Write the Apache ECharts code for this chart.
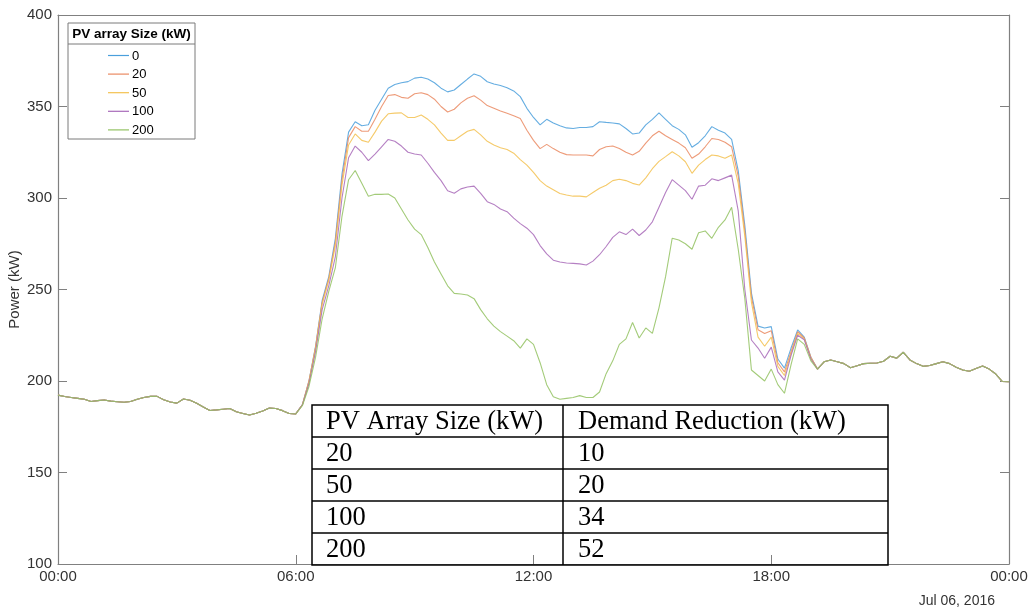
<!DOCTYPE html>
<html>
<head>
<meta charset="utf-8">
<script src="https://cdn.jsdelivr.net/npm/echarts@6/dist/echarts.min.js"></script>
<style>
html,body{margin:0;padding:0;background:#fff;}
#chart{width:1030px;height:611px;}
</style>
</head>
<body>
<div id="chart"></div>
<script>
// ---- DATA ----
const stepMinutes = 10;            // sampling interval of all arrays
const xTickLabels = ['00:00', '06:00', '12:00', '18:00', '00:00'];
const dateLabel = 'Jul 06, 2016';
const yAxisName = 'Power (kW)';
const legendTitle = 'PV array Size (kW)';
const seriesNames = ['0', '20', '50', '100', '200'];

// 00:00 - 06:00 (shared by all PV sizes)
const nightMorning = [192.3,191.5,191.0,190.5,190.0,188.8,189.3,189.6,189.0,188.7,188.4,188.8,
  190.0,191.0,191.6,191.6,189.8,188.5,187.9,190.2,189.5,187.8,185.8,183.9,184.2,184.6,185.0,
  183.2,182.2,181.4,182.4,183.6,185.2,185.0,183.8,182.2,182.0];

// 06:10 - 19:00 for each PV size
const day0 = [187,200,219,244,257,278,313,336,341.7,339.5,340,348,354,360,362,363,363.6,365.5,366,365,
  363,360,358,359,362,365,367.8,366.5,363.5,362.3,361.5,360.3,358.5,355.4,349,344,340,343,341,339.5,
  338.3,338,338.5,338.5,339,341.7,341.3,341,340.5,338,335,335.5,340,343,346.5,343,339.5,337.5,334.5,
  327.7,330.2,334,339,337,335.5,332,315,285,248,230,229,229.7,212,207,218,227.9,224,213];
const day20 = [187,200,218.5,243,256,276,310,333,339,336.5,336.5,343,350,356,356.5,355,354.5,357,357.5,356.5,
  354,350,347,348.5,352,354.5,355.9,353.5,350.5,349,347.5,346.3,345,343.5,337,331.5,327,329.3,327,325,
  323.7,323.5,323.5,323.5,323,326.5,328,328.4,327,325,323.5,325.5,330,334,336.5,334,332,330,327.5,
  321.7,324,328,332.5,332,330.5,328,312,282,246,228,226,227.5,210,205,216,227,223.5,213];
const day50 = [187,199.5,218,242,255,274,307,329,335,331.5,330.5,336,342,346,346.4,346.5,344,344,345.4,343,
  340,335.5,331.5,331.5,334,336.5,337.5,334.5,331,329,327.5,326.5,324.5,321,318,314,309.5,306.5,304.5,302.5,
  301.6,301,301,300.6,303,305.3,307,309.5,310.2,309.5,308,307.1,311,316,320,322.6,325.3,323,319.8,
  313.5,318,321,323.5,323,321.7,323.5,308,279,243,224,219,224,208,203,215,226,223,212.5];
const day100 = [187,198.5,216,239,252,268,300,322,328.4,325,320.4,324,328,332,331,328.4,325,324,323.5,319,
  314,309.5,304,302.6,305,306,306.5,302.5,298,296.5,294,292.5,289,286,283.5,280,274,269.5,266,265,
  264.5,264.3,264,263.4,265.5,269,273.5,278.5,281.5,280,283,279.5,282.5,287,295,303,310,307,304,
  299.3,306.5,307,310.5,309.5,311,312.5,293,250,222.4,218,212.4,218.5,205,200.5,214,225,222.5,212];
const day200 = [186.5,197,213,234,249,262,290,310,315,308,301,302,302,302.2,300,294,288,283,280,273,
  265,258.5,252,247.9,247.5,247,245,239,234,230,227,224.5,222,218,223,220,210,198,191.4,190,
  190.5,191,192,191,191,194,204,211,220,223,232,223.5,229,226,240,257,278,277,275,
  272,281,282,278,284,288,294.9,272,245,206,203,200,206.5,198,193.3,209,223,220,211];

// 19:10 - 24:00 (shared by all PV sizes)
const nightEvening = [206.5,210.5,211.5,210.5,209.5,207.2,208.3,209.5,209.7,209.8,210.8,213.5,212.5,215.7,
  211.5,209.5,208,208.5,209.5,210.5,209.5,207.5,206,205.3,206.8,208.2,206.5,203.8,199.7,199.6];

// Inset table
const tableHeader = ['PV Array Size (kW)', 'Demand Reduction (kW)'];
const tablePvSizes = ['20', '50', '100', '200'];
const tableReductions = ['10', '20', '34', '52'];

// ---- BUILD ----
const dayParts = [day0, day20, day50, day100, day200];
const colors = ['#4a9fdc', '#ea8a62', '#f3c150', '#a86ab9', '#93c262'];
const FONT = '"Liberation Sans", Arial, sans-serif';

function toPairs(values) {
  return values.map((v, i) => [i * stepMinutes / 60, v]);
}

const series = seriesNames.map((name, k) => ({
  name: name,
  type: 'line',
  symbol: 'none',
  data: toPairs(nightMorning.concat(dayParts[k], nightEvening)),
  lineStyle: { width: 1.1, color: colors[k], opacity: 0.85 },
  itemStyle: { color: colors[k] },
  emphasis: { disabled: true },
  animation: false,
  z: 2 + k
}));

const chart = echarts.init(document.getElementById('chart'), null, { renderer: 'canvas' });

// table graphics
const tbl = { left: 312, top: 405, right: 888, bottom: 565, colX: 563 };
const rowsCount = tablePvSizes.length + 1;
const rowH = (tbl.bottom - tbl.top) / rowsCount;
const tableGraphics = [];
tableGraphics.push({ type: 'rect', shape: { x: tbl.left, y: tbl.top, width: tbl.right - tbl.left, height: tbl.bottom - tbl.top },
  style: { fill: 'rgba(255,255,255,0)', stroke: '#000', lineWidth: 1.5 }, z: 100 });
for (let r = 1; r < rowsCount; r++) {
  const y = tbl.top + r * rowH;
  tableGraphics.push({ type: 'line', shape: { x1: tbl.left, y1: y, x2: tbl.right, y2: y }, style: { stroke: '#000', lineWidth: 1.5 }, z: 100 });
}
tableGraphics.push({ type: 'line', shape: { x1: tbl.colX, y1: tbl.top, x2: tbl.colX, y2: tbl.bottom }, style: { stroke: '#000', lineWidth: 1.5 }, z: 100 });
const rowsText = [tableHeader].concat(tablePvSizes.map((p, i) => [p, tableReductions[i]]));
rowsText.forEach((row, r) => {
  const cy = tbl.top + r * rowH + rowH / 2 + 1;
  [tbl.left + 14, tbl.colX + 15].forEach((x, c) => {
    tableGraphics.push({ type: 'text', x: x, y: cy, z: 101,
      style: { text: row[c], fill: '#000', font: '26.5px "Liberation Serif", "Times New Roman", serif', textVerticalAlign: 'middle', textAlign: 'left' } });
  });
});

// legend box graphics (drawn from seriesNames / colors)
const legendBox = { x: 68, y: 23, w: 127, h: 116, titleLineY: 44, firstRowY: 55.5, rowGap: 18.6, lineX1: 108, lineX2: 129, textX: 132 };
const legendGraphics = [
  { type: 'rect', shape: { x: legendBox.x, y: legendBox.y, width: legendBox.w, height: legendBox.h }, style: { fill: '#fff', stroke: '#7a7a7a', lineWidth: 1 }, z: 90 },
  { type: 'line', shape: { x1: legendBox.x, y1: legendBox.titleLineY, x2: legendBox.x + legendBox.w, y2: legendBox.titleLineY }, style: { stroke: '#7a7a7a', lineWidth: 1 }, z: 91 },
  { type: 'text', x: legendBox.x + legendBox.w / 2, y: 34, z: 91, style: { text: legendTitle, fill: '#000', font: 'bold 13.5px ' + FONT, textAlign: 'center', textVerticalAlign: 'middle' } }
];
seriesNames.forEach((name, k) => {
  const y = legendBox.firstRowY + k * legendBox.rowGap;
  legendGraphics.push({ type: 'line', z: 92, shape: { x1: legendBox.lineX1, y1: y, x2: legendBox.lineX2, y2: y }, style: { stroke: colors[k], lineWidth: 1.2 } });
  legendGraphics.push({ type: 'text', z: 92, x: legendBox.textX, y: y + 0.5, style: { text: name, fill: '#000', font: '13px ' + FONT, textAlign: 'left', textVerticalAlign: 'middle' } });
});

const option = {
  backgroundColor: '#fff',
  animation: false,
  grid: { left: 58, right: 21, top: 15, bottom: 47, containLabel: false, outerBoundsMode: 'none' },
  xAxis: [{
    type: 'value', min: 0, max: 24, interval: 6,
    axisLine: { lineStyle: { color: '#808080', width: 1.2 } },
    axisTick: { inside: true, length: 9, lineStyle: { color: '#808080' } },
    splitLine: { show: false },
    axisLabel: { color: '#333', fontSize: 15, fontFamily: FONT, margin: 5,
      formatter: (v) => xTickLabels[Math.round(v / 6)] },
    name: dateLabel, nameLocation: 'end', nameGap: 0,
    nameTextStyle: { color: '#333', fontSize: 14, fontFamily: FONT, verticalAlign: 'top', align: 'right', padding: [30, 14, 0, 0] }
  }, {
    type: 'value', min: 0, max: 24, interval: 6, position: 'top',
    axisLine: { show: true, onZero: false, lineStyle: { color: '#808080', width: 1.2 } },
    axisTick: { show: false },
    axisLabel: { show: false }, splitLine: { show: false }
  }],
  yAxis: [{
    type: 'value', min: 100, max: 400, interval: 50,
    axisLine: { show: true, lineStyle: { color: '#808080', width: 1.2 } },
    axisTick: { show: true, inside: true, length: 9, lineStyle: { color: '#808080' } },
    splitLine: { show: false },
    axisLabel: { color: '#333', fontSize: 15, fontFamily: FONT, margin: 6 },
    name: yAxisName, nameLocation: 'middle', nameGap: 43, nameRotate: 90, nameMoveOverlap: false,
    nameTextStyle: { color: '#333', fontSize: 15, fontFamily: FONT, verticalAlign: 'middle' }
  }, {
    type: 'value', min: 100, max: 400, interval: 50, position: 'right',
    axisLine: { show: true, onZero: false, lineStyle: { color: '#808080', width: 1.2 } },
    axisTick: { show: true, inside: true, length: 9, lineStyle: { color: '#808080' } },
    axisLabel: { show: false }, splitLine: { show: false }
  }],
  graphic: legendGraphics.concat(tableGraphics),
  series: series
};
chart.setOption(option);
</script>
</body>
</html>
